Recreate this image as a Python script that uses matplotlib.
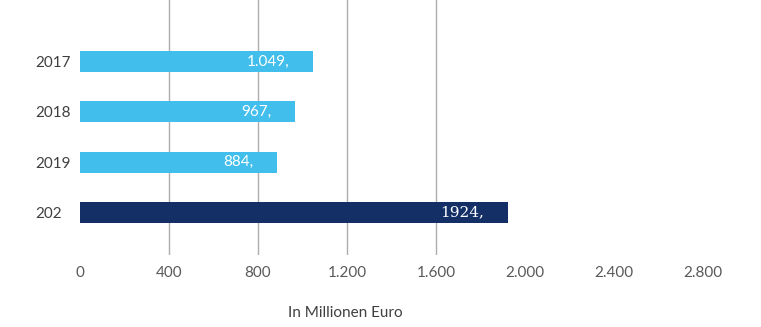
import matplotlib.pyplot as plt

# data
years = ["2017", "2018", "2019", "202"]
values = [1049, 967, 884, 1924]
labels = ["1.049,", "967,", "884,", "1924,"]
colors = ["#41BEEB", "#41BEEB", "#41BEEB", "#132F66"]
xticks = [0, 400, 800, 1200, 1600, 2000, 2400, 2800]
xtick_labels = ["0", "400", "800", "1.200", "1.600", "2.000", "2.400", "2.800"]
grid_at = [400, 800, 1200, 1600]

plt.rcParams['font.family'] = ['Lato', 'DejaVu Sans']

W, H = 761, 327
fig = plt.figure(figsize=(W / 100, H / 100), dpi=100)
ax = fig.add_axes([80 / W, 1 - 255 / H, (703 - 80) / W, 255 / H])

pos = list(range(len(years)))
ax.barh(pos, values, height=0.42, color=colors, zorder=3)

# vertical grid lines (only where the reference shows them)
for g in grid_at:
    ax.axvline(g, color="#ADADAD", lw=1, zorder=1)

for i, (v, lab) in enumerate(zip(values, labels)):
    fam = ['DejaVu Serif'] if i == 3 else ['Lato', 'DejaVu Sans']
    ax.annotate(lab, xy=(v, i), xytext=(-17, 0), textcoords="offset points",
                ha="right", va="center", color="white", fontsize=11,
                family=fam, zorder=4)

ax.set_xlim(0, 2800)
ax.set_ylim(3.844, -1.222)
ax.set_yticks(pos)
ax.set_yticklabels(years, color="#404040", fontsize=11)
for t in ax.get_yticklabels():
    t.set_ha("left")
ax.set_xticks(xticks)
ax.set_xticklabels(xtick_labels, color="#595959", fontsize=11)
ax.tick_params(axis="y", length=0, pad=32)
ax.tick_params(axis="x", length=0, pad=8)
for s in ax.spines.values():
    s.set_visible(False)

fig.text(345 / W, 1 - 313 / H, "In Millionen Euro", ha="center", va="center",
         color="#404040", fontsize=11)

fig.savefig("out.png", dpi=100, facecolor="white")
